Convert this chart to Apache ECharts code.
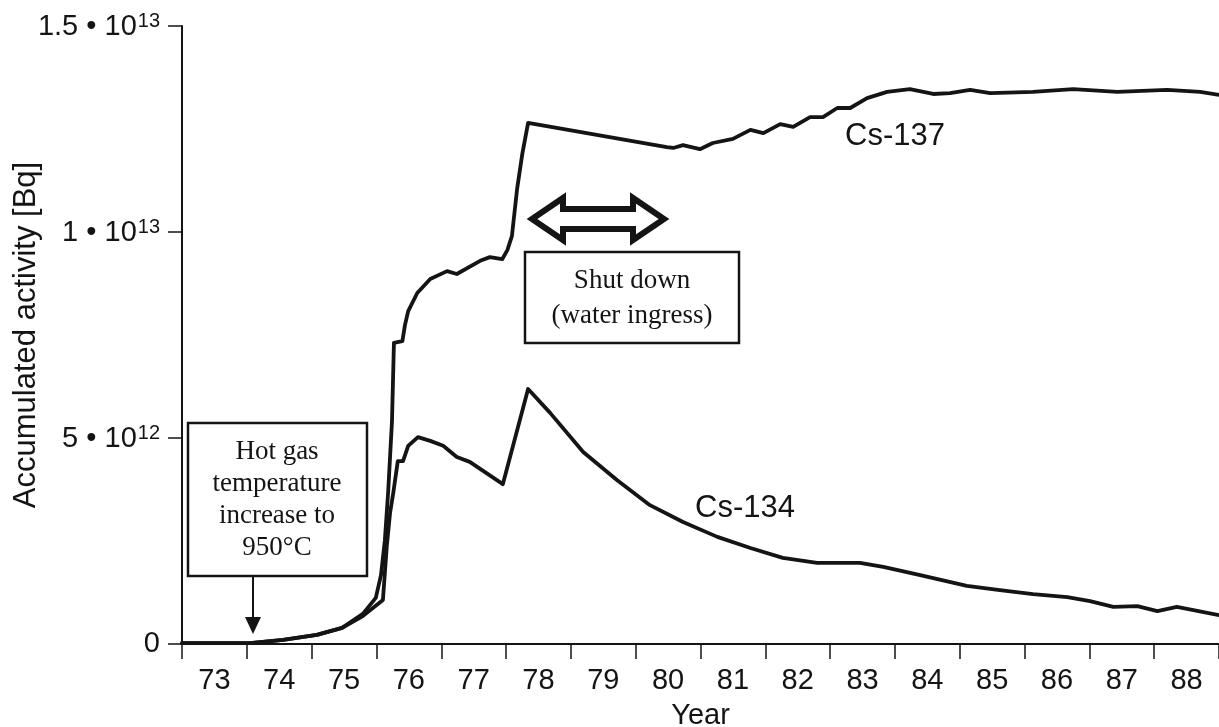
<!DOCTYPE html>
<html>
<head>
<meta charset="utf-8">
<title>Accumulated activity Cs-137 / Cs-134</title>
<script src="https://cdn.jsdelivr.net/npm/echarts@6/dist/echarts.min.js"></script>
<style>
  html, body { margin: 0; padding: 0; background: #fff; }
  #chart { width: 1219px; height: 727px; }
</style>
</head>
<body>
<div id="chart"></div>
<script>
// year labels under the axis (one band per year)
const years = ['73', '74', '75', '76', '77', '78', '79', '80', '81', '82', '83', '84', '85', '86', '87', '88']

// y ticks, in units of 1e12 Bq
const yTicks = [0, 5, 10, 15]
const yTickBase = ['0', '5 \u2022 10', '1 \u2022 10', '1.5 \u2022 10']
const yTickExp = ['', '12', '13', '13']

// Cs-137 accumulated activity: [year, 1e12 Bq]
const cs137 = [
  [73.0, 0.02], [74.05, 0.02], [74.56, 0.1], [75.08, 0.22], [75.47, 0.39], [75.79, 0.73],
  [75.99, 1.12], [76.07, 1.67], [76.13, 2.52], [76.18, 3.67], [76.24, 5.41], [76.27, 7.31],
  [76.4, 7.35], [76.44, 7.74], [76.49, 8.08], [76.63, 8.52], [76.83, 8.86], [77.09, 9.05],
  [77.24, 8.98], [77.6, 9.3], [77.75, 9.39], [77.94, 9.34], [78.02, 9.56], [78.09, 9.9],
  [78.17, 11.04], [78.25, 11.89], [78.34, 12.65], [80.48, 12.06], [80.58, 12.04], [80.73, 12.11],
  [80.99, 12.01], [81.19, 12.16], [81.5, 12.26], [81.77, 12.48], [81.97, 12.4], [82.23, 12.62],
  [82.43, 12.55], [82.69, 12.79], [82.89, 12.79], [83.11, 13.01], [83.31, 13.01], [83.57, 13.25],
  [83.88, 13.4], [84.23, 13.47], [84.59, 13.35], [84.85, 13.37], [85.16, 13.45], [85.47, 13.37],
  [86.13, 13.4], [86.75, 13.47], [87.43, 13.4], [88.2, 13.45], [88.71, 13.4], [89.0, 13.33]
]

// Cs-134 accumulated activity: [year, 1e12 Bq]
const cs134 = [
  [73.0, 0.02], [74.05, 0.02], [74.56, 0.1], [75.08, 0.22], [75.47, 0.39], [75.79, 0.68],
  [76.1, 1.07], [76.16, 2.38], [76.21, 3.18], [76.26, 3.67], [76.33, 4.44], [76.41, 4.44],
  [76.49, 4.81], [76.64, 5.02], [76.83, 4.93], [77.03, 4.81], [77.24, 4.54], [77.44, 4.42],
  [77.95, 3.88], [78.34, 6.19], [78.68, 5.61], [79.19, 4.66], [79.71, 3.98], [80.22, 3.37],
  [80.73, 2.96], [81.26, 2.6], [81.77, 2.33], [82.27, 2.09], [82.8, 1.97], [83.46, 1.97],
  [83.82, 1.87], [84.39, 1.67], [85.11, 1.41], [85.62, 1.31], [86.13, 1.21], [86.66, 1.14],
  [87.01, 1.04], [87.37, 0.9], [87.74, 0.92], [88.05, 0.8], [88.35, 0.9], [89.0, 0.7]
]

const ink = '#141414'
const sans = '"Liberation Sans", Arial, sans-serif'
const serif = '"Liberation Serif", "Times New Roman", serif'

const chart = echarts.init(document.getElementById('chart'))

const lineStyle = { color: ink, width: 3.8, join: 'round', cap: 'round' }

const option = {
  animation: false,
  backgroundColor: '#fff',
  grid: { left: 182, right: 0, top: 26, bottom: 83, outerBoundsMode: 'none', containLabel: false },
  xAxis: [
    {
      // data axis, also draws the top border
      type: 'value',
      position: 'top',
      min: 73,
      max: 89,
      axisLine: { show: true, lineStyle: { color: ink, width: 2 } },
      axisTick: { show: false },
      axisLabel: { show: false },
      splitLine: { show: false }
    },
    {
      type: 'category',
      position: 'bottom',
      data: years,
      boundaryGap: true,
      axisLine: { show: true, lineStyle: { color: ink, width: 2 } },
      axisTick: { show: true, length: 15, lineStyle: { color: ink, width: 1.5 } },
      axisLabel: { color: ink, fontSize: 29, fontFamily: sans, margin: 22 },
      splitLine: { show: false },
      name: 'Year',
      nameLocation: 'middle',
      nameGap: 57,
      nameMoveOverlap: false,
      nameTextStyle: { color: ink, fontSize: 29, fontFamily: sans, verticalAlign: 'top' }
    }
  ],
  yAxis: {
    type: 'value',
    min: 0,
    max: 15,
    interval: 5,
    axisLine: { show: true, lineStyle: { color: ink, width: 2 } },
    axisTick: { show: true, length: 14, lineStyle: { color: ink, width: 1.5 } },
    splitLine: { show: false },
    axisLabel: {
      margin: 22,
      formatter: function (v) {
        const i = yTicks.indexOf(v)
        if (i < 0) return ''
        return yTickExp[i] ? '{m|' + yTickBase[i] + '}{s|' + yTickExp[i] + '}' : '{m|' + yTickBase[i] + '}'
      },
      rich: {
        m: { fontSize: 29, fontFamily: sans, color: ink, verticalAlign: 'bottom' },
        s: { fontSize: 20, fontFamily: sans, color: ink, verticalAlign: 'bottom', padding: [0, 0, 10, 1] }
      }
    },
    name: 'Accumulated activity [Bq]',
    nameLocation: 'middle',
    nameGap: 140,
    nameRotate: 90,
    nameMoveOverlap: false,
    nameTextStyle: { color: ink, fontSize: 31, fontFamily: sans }
  },
  series: [
    {
      name: 'Cs-137',
      type: 'line',
      xAxisIndex: 0,
      data: cs137,
      showSymbol: false,
      lineStyle: lineStyle,
      z: 3
    },
    {
      name: 'Cs-134',
      type: 'line',
      xAxisIndex: 0,
      data: cs134,
      showSymbol: false,
      lineStyle: lineStyle,
      z: 3
    }
  ],
  graphic: [
    // curve labels
    { type: 'text', z: 10, style: { text: 'Cs-137', x: 895, y: 136, align: 'center', verticalAlign: 'middle', font: '31px ' + sans, fill: ink } },
    { type: 'text', z: 10, style: { text: 'Cs-134', x: 745, y: 508, align: 'center', verticalAlign: 'middle', font: '31px ' + sans, fill: ink } },

    // hot gas box + arrow
    { type: 'rect', z: 10, shape: { x: 188, y: 423, width: 179, height: 153 }, style: { fill: '#fff', stroke: ink, lineWidth: 2.5 } },
    {
      type: 'text', z: 11,
      style: {
        text: 'Hot gas\ntemperature\nincrease to\n950\u00B0C',
        x: 277, y: 500, align: 'center', verticalAlign: 'middle',
        font: '27px ' + serif, lineHeight: 32, fill: ink
      }
    },
    { type: 'line', z: 10, shape: { x1: 253, y1: 577, x2: 253, y2: 620 }, style: { stroke: ink, lineWidth: 2 } },
    { type: 'polygon', z: 10, shape: { points: [[245, 617], [261, 617], [253, 634]] }, style: { fill: ink } },

    // shut down box + hollow double arrow
    { type: 'rect', z: 10, shape: { x: 525, y: 252, width: 214, height: 91 }, style: { fill: '#fff', stroke: ink, lineWidth: 2.5 } },
    {
      type: 'text', z: 11,
      style: {
        text: 'Shut down\n(water ingress)',
        x: 632, y: 298, align: 'center', verticalAlign: 'middle',
        font: '27px ' + serif, lineHeight: 35, fill: ink
      }
    },
    {
      type: 'polygon', z: 10,
      shape: { points: [[532, 219], [563, 198], [563, 209], [633, 209], [633, 198], [664, 219], [633, 240], [633, 229], [563, 229], [563, 240]] },
      style: { fill: '#fff', stroke: ink, lineWidth: 6, lineJoin: 'miter' }
    }
  ]
}

chart.setOption(option)
</script>
</body>
</html>
